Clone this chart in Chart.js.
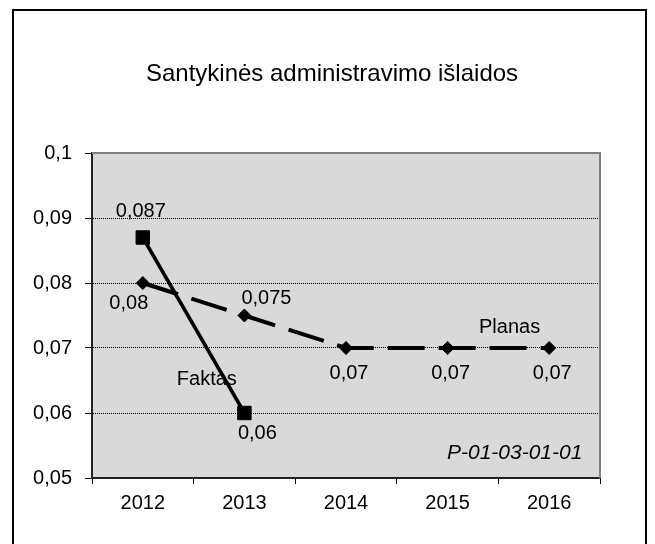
<!DOCTYPE html>
<html>
<head>
<meta charset="utf-8">
<script src="https://cdn.jsdelivr.net/npm/chart.js@4"></script>
<style>
  html, body { margin: 0; padding: 0; background: #fff; overflow: hidden; }
  #wrap { position: relative; width: 655px; height: 544px; overflow: hidden; }
  #frame { position: absolute; left: 12px; top: 9px; width: 631px; height: 600px; border: 2px solid #000; }
  #c { position: absolute; left: 0; top: 0; }
</style>
</head>
<body>
<div id="wrap">
  <div id="frame"></div>
  <canvas id="c" width="655" height="544"></canvas>
</div>
<script>
const categories = ['2012', '2013', '2014', '2015', '2016'];
const faktas = [0.087, 0.06, null, null, null];
const planas = [0.08, 0.075, 0.07, 0.07, 0.07];
const yTicks = [0.05, 0.06, 0.07, 0.08, 0.09, 0.1];
const titleText = 'Santykinės administravimo išlaidos';
const seriesNames = ['Faktas', 'Planas'];
const codeText = 'P-01-03-01-01';

// label placement (pixels relative to point) — style only
const faktasLabelOffsets = [[-2, -26], [13, 20]];
const planasLabelOffsets = [[-14, 20], [22, -17], [3, 25], [3, 25], [3, 25]];

const FONT = '"Liberation Sans", Arial, sans-serif';

function fmt(v) {
  return String(Number(v.toFixed(3))).replace('.', ',');
}

const bgPlugin = {
  id: 'bg',
  beforeDraw(chart) {
    const {ctx, chartArea: a} = chart;
    ctx.save();
    ctx.fillStyle = '#D9D9D9';
    ctx.fillRect(a.left, a.top, a.right - a.left, a.bottom - a.top);
    ctx.fillStyle = '#000';
    ctx.font = '24px ' + FONT;
    ctx.textAlign = 'center';
    ctx.textBaseline = 'middle';
    ctx.fillText(titleText, 332, 74);
    ctx.restore();
  },
  afterDraw(chart) {
    const {ctx, chartArea: a} = chart;
    ctx.save();
    ctx.strokeStyle = '#808080';
    ctx.lineWidth = 2;
    ctx.beginPath();
    ctx.moveTo(a.left, a.top);
    ctx.lineTo(a.right, a.top);
    ctx.lineTo(a.right, a.bottom);
    ctx.stroke();
    ctx.restore();
  }
};

const labelPlugin = {
  id: 'labels',
  afterDatasetsDraw(chart) {
    const {ctx, scales} = chart;
    ctx.save();
    ctx.font = '20px ' + FONT;
    ctx.fillStyle = '#000';
    ctx.textAlign = 'center';
    ctx.textBaseline = 'middle';
    const offs = [faktasLabelOffsets, planasLabelOffsets];
    chart.data.datasets.forEach((ds, di) => {
      const meta = chart.getDatasetMeta(di);
      meta.data.forEach((pt, i) => {
        const v = ds.data[i];
        if (v === null || v === undefined) return;
        const o = offs[di][i] || [0, -20];
        ctx.fillText(fmt(v), pt.x + o[0], pt.y + o[1]);
      });
    });
    const x = scales.x, y = scales.y;
    ctx.fillText(seriesNames[0], x.getPixelForValue(0.63), y.getPixelForValue(0.0651));
    ctx.fillText(seriesNames[1], x.getPixelForValue(3.61), y.getPixelForValue(0.0731));
    ctx.font = 'italic 21px ' + FONT;
    ctx.fillText(codeText, x.getPixelForValue(3.66), y.getPixelForValue(0.0538));
    ctx.restore();
  }
};

new Chart(document.getElementById('c'), {
  type: 'line',
  data: {
    labels: categories,
    datasets: [
      {
        label: seriesNames[0],
        data: faktas,
        borderColor: '#000',
        backgroundColor: '#000',
        borderWidth: 3.5,
        pointStyle: 'rect',
        pointRadius: 9.5,
        pointBorderWidth: 1,
        pointBackgroundColor: '#000',
        pointBorderColor: '#000',
        tension: 0,
        spanGaps: false
      },
      {
        label: seriesNames[1],
        data: planas,
        borderColor: '#000',
        backgroundColor: '#000',
        borderWidth: 4,
        borderDash: [37, 14],
        pointStyle: 'rectRot',
        pointRadius: 6.5,
        pointBorderWidth: 1,
        pointBackgroundColor: '#000',
        pointBorderColor: '#000',
        tension: 0
      }
    ]
  },
  options: {
    responsive: false,
    animation: false,
    devicePixelRatio: 1,
    layout: { padding: { left: 0, right: 55, top: 153, bottom: 0 } },
    plugins: {
      legend: { display: false },
      tooltip: { enabled: false },
      title: { display: false }
    },
    scales: {
      x: {
        type: 'category',
        offset: true,
        grid: {
          offset: true,
          color: 'rgba(0,0,0,0)',
          tickColor: '#000',
          tickLength: 6,
          tickWidth: 1
        },
        border: { display: true, color: '#222', width: 2 },
        ticks: {
          color: '#000',
          padding: 7,
          maxRotation: 0,
          font: { family: FONT, size: 20 }
        },
        afterFit(scale) { scale.height = 66; }
      },
      y: {
        min: yTicks[0],
        max: yTicks[yTicks.length - 1],
        afterBuildTicks(scale) {
          scale.ticks = yTicks.map(v => ({ value: v }));
        },
        grid: {
          color(ctx) {
            const v = ctx.tick ? ctx.tick.value : 0;
            return (v > 0.055 && v < 0.095) ? '#000' : 'rgba(0,0,0,0)';
          },
          lineWidth: 1,
          tickColor: '#000',
          tickLength: 7,
          tickWidth: 1,
          tickBorderDash: []
        },
        border: { display: true, color: '#222', width: 2, dash: [1, 1] },
        ticks: {
          color: '#000',
          padding: 13,
          font: { family: FONT, size: 20 },
          callback: (v) => fmt(v)
        },
        afterFit(scale) { scale.width = 92; }
      }
    }
  },
  plugins: [bgPlugin, labelPlugin]
});
</script>
</body>
</html>
